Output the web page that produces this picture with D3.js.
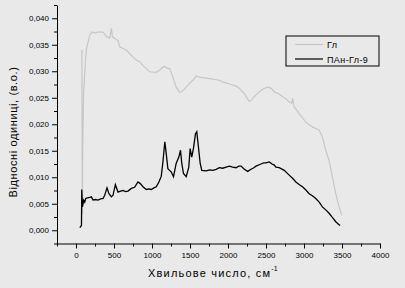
<!DOCTYPE html>
<html>
<head>
<meta charset="utf-8">
<script src="https://cdn.jsdelivr.net/npm/d3@7"></script>
<style>
  html, body { margin: 0; padding: 0; background: #e9e9e9; }
  svg { display: block; font-family: "Liberation Sans", Arial, sans-serif; }
</style>
</head>
<body>
<div id="chart"></div>
<script>
// --- Data ---
const glWave = [78, 80, 82, 84, 88, 100, 120, 138, 159, 181, 211, 247, 290, 356, 400, 443, 466, 479, 509, 553, 575, 618, 662, 706, 749, 794, 837, 881, 925, 968, 1056, 1100, 1143, 1165, 1200, 1231, 1274, 1318, 1362, 1405, 1450, 1493, 1537, 1581, 1624, 1668, 1712, 1756, 1800, 1843, 1887, 1930, 1975, 2018, 2062, 2106, 2150, 2172, 2215, 2237, 2281, 2303, 2347, 2412, 2456, 2500, 2543, 2580, 2609, 2631, 2674, 2718, 2760, 2805, 2840, 2849, 2871, 2937, 2980, 3024, 3068, 3111, 3155, 3199, 3242, 3286, 3330, 3373, 3418, 3461, 3497];
const glValue = [0.0340, 0.0200, 0.0110, 0.0030, 0.0150, 0.0260, 0.0310, 0.0343, 0.0355, 0.0368, 0.0374, 0.0372, 0.0374, 0.0374, 0.0365, 0.0363, 0.0381, 0.0365, 0.0362, 0.0358, 0.0346, 0.0343, 0.0340, 0.0333, 0.0327, 0.0321, 0.0318, 0.0311, 0.0305, 0.0299, 0.0298, 0.0302, 0.0308, 0.0309, 0.0306, 0.0305, 0.0289, 0.0270, 0.0260, 0.0263, 0.0270, 0.0277, 0.0283, 0.0291, 0.0289, 0.0288, 0.0287, 0.0286, 0.0285, 0.0284, 0.0283, 0.0280, 0.0278, 0.0276, 0.0274, 0.0272, 0.0268, 0.0264, 0.0258, 0.0252, 0.0243, 0.0245, 0.0252, 0.0261, 0.0266, 0.0269, 0.0270, 0.0266, 0.0261, 0.0260, 0.0257, 0.0252, 0.0248, 0.0242, 0.0240, 0.0249, 0.0233, 0.0220, 0.0212, 0.0204, 0.0199, 0.0195, 0.0192, 0.0189, 0.0176, 0.0151, 0.0132, 0.0101, 0.0069, 0.0044, 0.0028];

const panWave = [50, 72, 76, 85, 102, 115, 128, 150, 181, 203, 224, 255, 290, 325, 356, 378, 408, 434, 466, 487, 518, 553, 585, 618, 650, 684, 728, 771, 815, 846, 881, 925, 960, 990, 1025, 1056, 1091, 1122, 1143, 1169, 1187, 1209, 1231, 1253, 1283, 1318, 1353, 1375, 1392, 1414, 1450, 1484, 1502, 1523, 1545, 1572, 1589, 1611, 1634, 1655, 1712, 1760, 1800, 1843, 1887, 1930, 1975, 2018, 2062, 2106, 2140, 2172, 2215, 2259, 2303, 2340, 2368, 2434, 2470, 2500, 2543, 2580, 2609, 2631, 2674, 2740, 2805, 2850, 2893, 2940, 2980, 3025, 3068, 3110, 3155, 3200, 3242, 3290, 3330, 3375, 3418, 3450, 3475];
const panValue = [0.0005, 0.0009, 0.0077, 0.0044, 0.0057, 0.0053, 0.0060, 0.0061, 0.0062, 0.0063, 0.0057, 0.0058, 0.0057, 0.0059, 0.0060, 0.0066, 0.0080, 0.0069, 0.0063, 0.0066, 0.0086, 0.0072, 0.0074, 0.0075, 0.0073, 0.0074, 0.0079, 0.0081, 0.0091, 0.0088, 0.0082, 0.0077, 0.0078, 0.0077, 0.0080, 0.0082, 0.0091, 0.0102, 0.0128, 0.0167, 0.0145, 0.0116, 0.0113, 0.0110, 0.0101, 0.0126, 0.0138, 0.0151, 0.0126, 0.0107, 0.0101, 0.0119, 0.0154, 0.0138, 0.0154, 0.0182, 0.0186, 0.0157, 0.0126, 0.0113, 0.0112, 0.0114, 0.0113, 0.0115, 0.0118, 0.0117, 0.0119, 0.0121, 0.0119, 0.0118, 0.0121, 0.0121, 0.0115, 0.0111, 0.0115, 0.0118, 0.0121, 0.0125, 0.0127, 0.0127, 0.0129, 0.0125, 0.0123, 0.0119, 0.0118, 0.0113, 0.0104, 0.0098, 0.0091, 0.0086, 0.0082, 0.0076, 0.0069, 0.0065, 0.0060, 0.0053, 0.0044, 0.0038, 0.0032, 0.0024, 0.0016, 0.0012, 0.0009];

const xTicks = [0, 500, 1000, 1500, 2000, 2500, 3000, 3500, 4000];
const yTicks = [0, 0.005, 0.010, 0.015, 0.020, 0.025, 0.030, 0.035, 0.040];
const seriesNames = ["Гл", "ПАн-Гл-9"];
const seriesColors = ["#c6c6c6", "#000000"];

// --- Setup ---
const width = 405, height = 288;
const svg = d3.select("#chart").append("svg")
    .attr("width", width)
    .attr("height", height);

const x = d3.scaleLinear().domain([-250, 4000]).range([57, 380]);
const y = d3.scaleLinear().domain([-0.0025, 0.0425]).range([243.5, 5]);

const fmtY = d => d3.format(".3f")(d).replace(".", ",");

// Axes (major + minor ticks)
const xMinor = d3.range(-250, 4001, 250).filter(v => v % 500 !== 0);
const yMinor = d3.range(-0.0025, 0.0426, 0.0025).filter(v => Math.abs(Math.round(v / 0.005) * 0.005 - v) > 1e-6);

const gx = svg.append("g").attr("transform", `translate(0,${y.range()[0]})`);
gx.call(d3.axisBottom(x).tickValues(xTicks).tickSize(5).tickSizeOuter(0).tickPadding(4).tickFormat(d3.format("d")));
gx.append("g").call(d3.axisBottom(x).tickValues(xMinor).tickSize(3).tickFormat(""))
    .select(".domain").remove();

const gy = svg.append("g").attr("transform", `translate(${x.range()[0]},0)`);
gy.call(d3.axisLeft(y).tickValues(yTicks).tickSize(5).tickSizeOuter(0).tickPadding(3).tickFormat(fmtY));
gy.append("g").call(d3.axisLeft(y).tickValues(yMinor).tickSize(3).tickFormat(""))
    .select(".domain").remove();

svg.selectAll(".tick text")
    .style("font-size", "8px")
    .attr("fill", "#000");
svg.selectAll(".domain, .tick line").attr("stroke", "#000");

// Series lines
const line = d3.line()
    .x(d => x(d[0]))
    .y(d => y(d[1]));

const glData = glWave.map((w, i) => [w, glValue[i]]);
const panData = panWave.map((w, i) => [w, panValue[i]]);

svg.append("path")
    .datum(glData)
    .attr("fill", "none")
    .attr("stroke", seriesColors[0])
    .attr("stroke-width", 1.2)
    .attr("d", line);

svg.append("path")
    .datum(panData)
    .attr("fill", "none")
    .attr("stroke", seriesColors[1])
    .attr("stroke-width", 1.3)
    .attr("d", line);

// Axis titles
svg.append("text")
    .attr("transform", "translate(17,132) rotate(-90)")
    .attr("text-anchor", "middle")
    .style("font-size", "11px")
    .style("letter-spacing", "0.6px")
    .text("Відносні одиниці, (в.о.)");

const xt = svg.append("text")
    .attr("x", 148)
    .attr("y", 277)
    .style("font-size", "11px")
    .style("letter-spacing", "1.2px")
    .text("Хвильове число, см");
xt.append("tspan")
    .attr("dy", -6)
    .style("font-size", "7px")
    .style("letter-spacing", "0px")
    .text("-1");

// Legend
const legend = svg.append("g").attr("transform", "translate(286,36)");
legend.append("rect")
    .attr("width", 93)
    .attr("height", 30)
    .attr("fill", "none")
    .attr("stroke", "#000");

seriesNames.forEach((name, i) => {
    const ly = 8.5 + i * 14.5;
    legend.append("line")
        .attr("x1", 9).attr("x2", 37)
        .attr("y1", ly).attr("y2", ly)
        .attr("stroke", seriesColors[i])
        .attr("stroke-width", 1.2);
    legend.append("text")
        .attr("x", 41)
        .attr("y", ly + 3.5)
        .style("font-size", "9px")
        .style("letter-spacing", "0.4px")
        .text(name);
});
</script>
</body>
</html>
